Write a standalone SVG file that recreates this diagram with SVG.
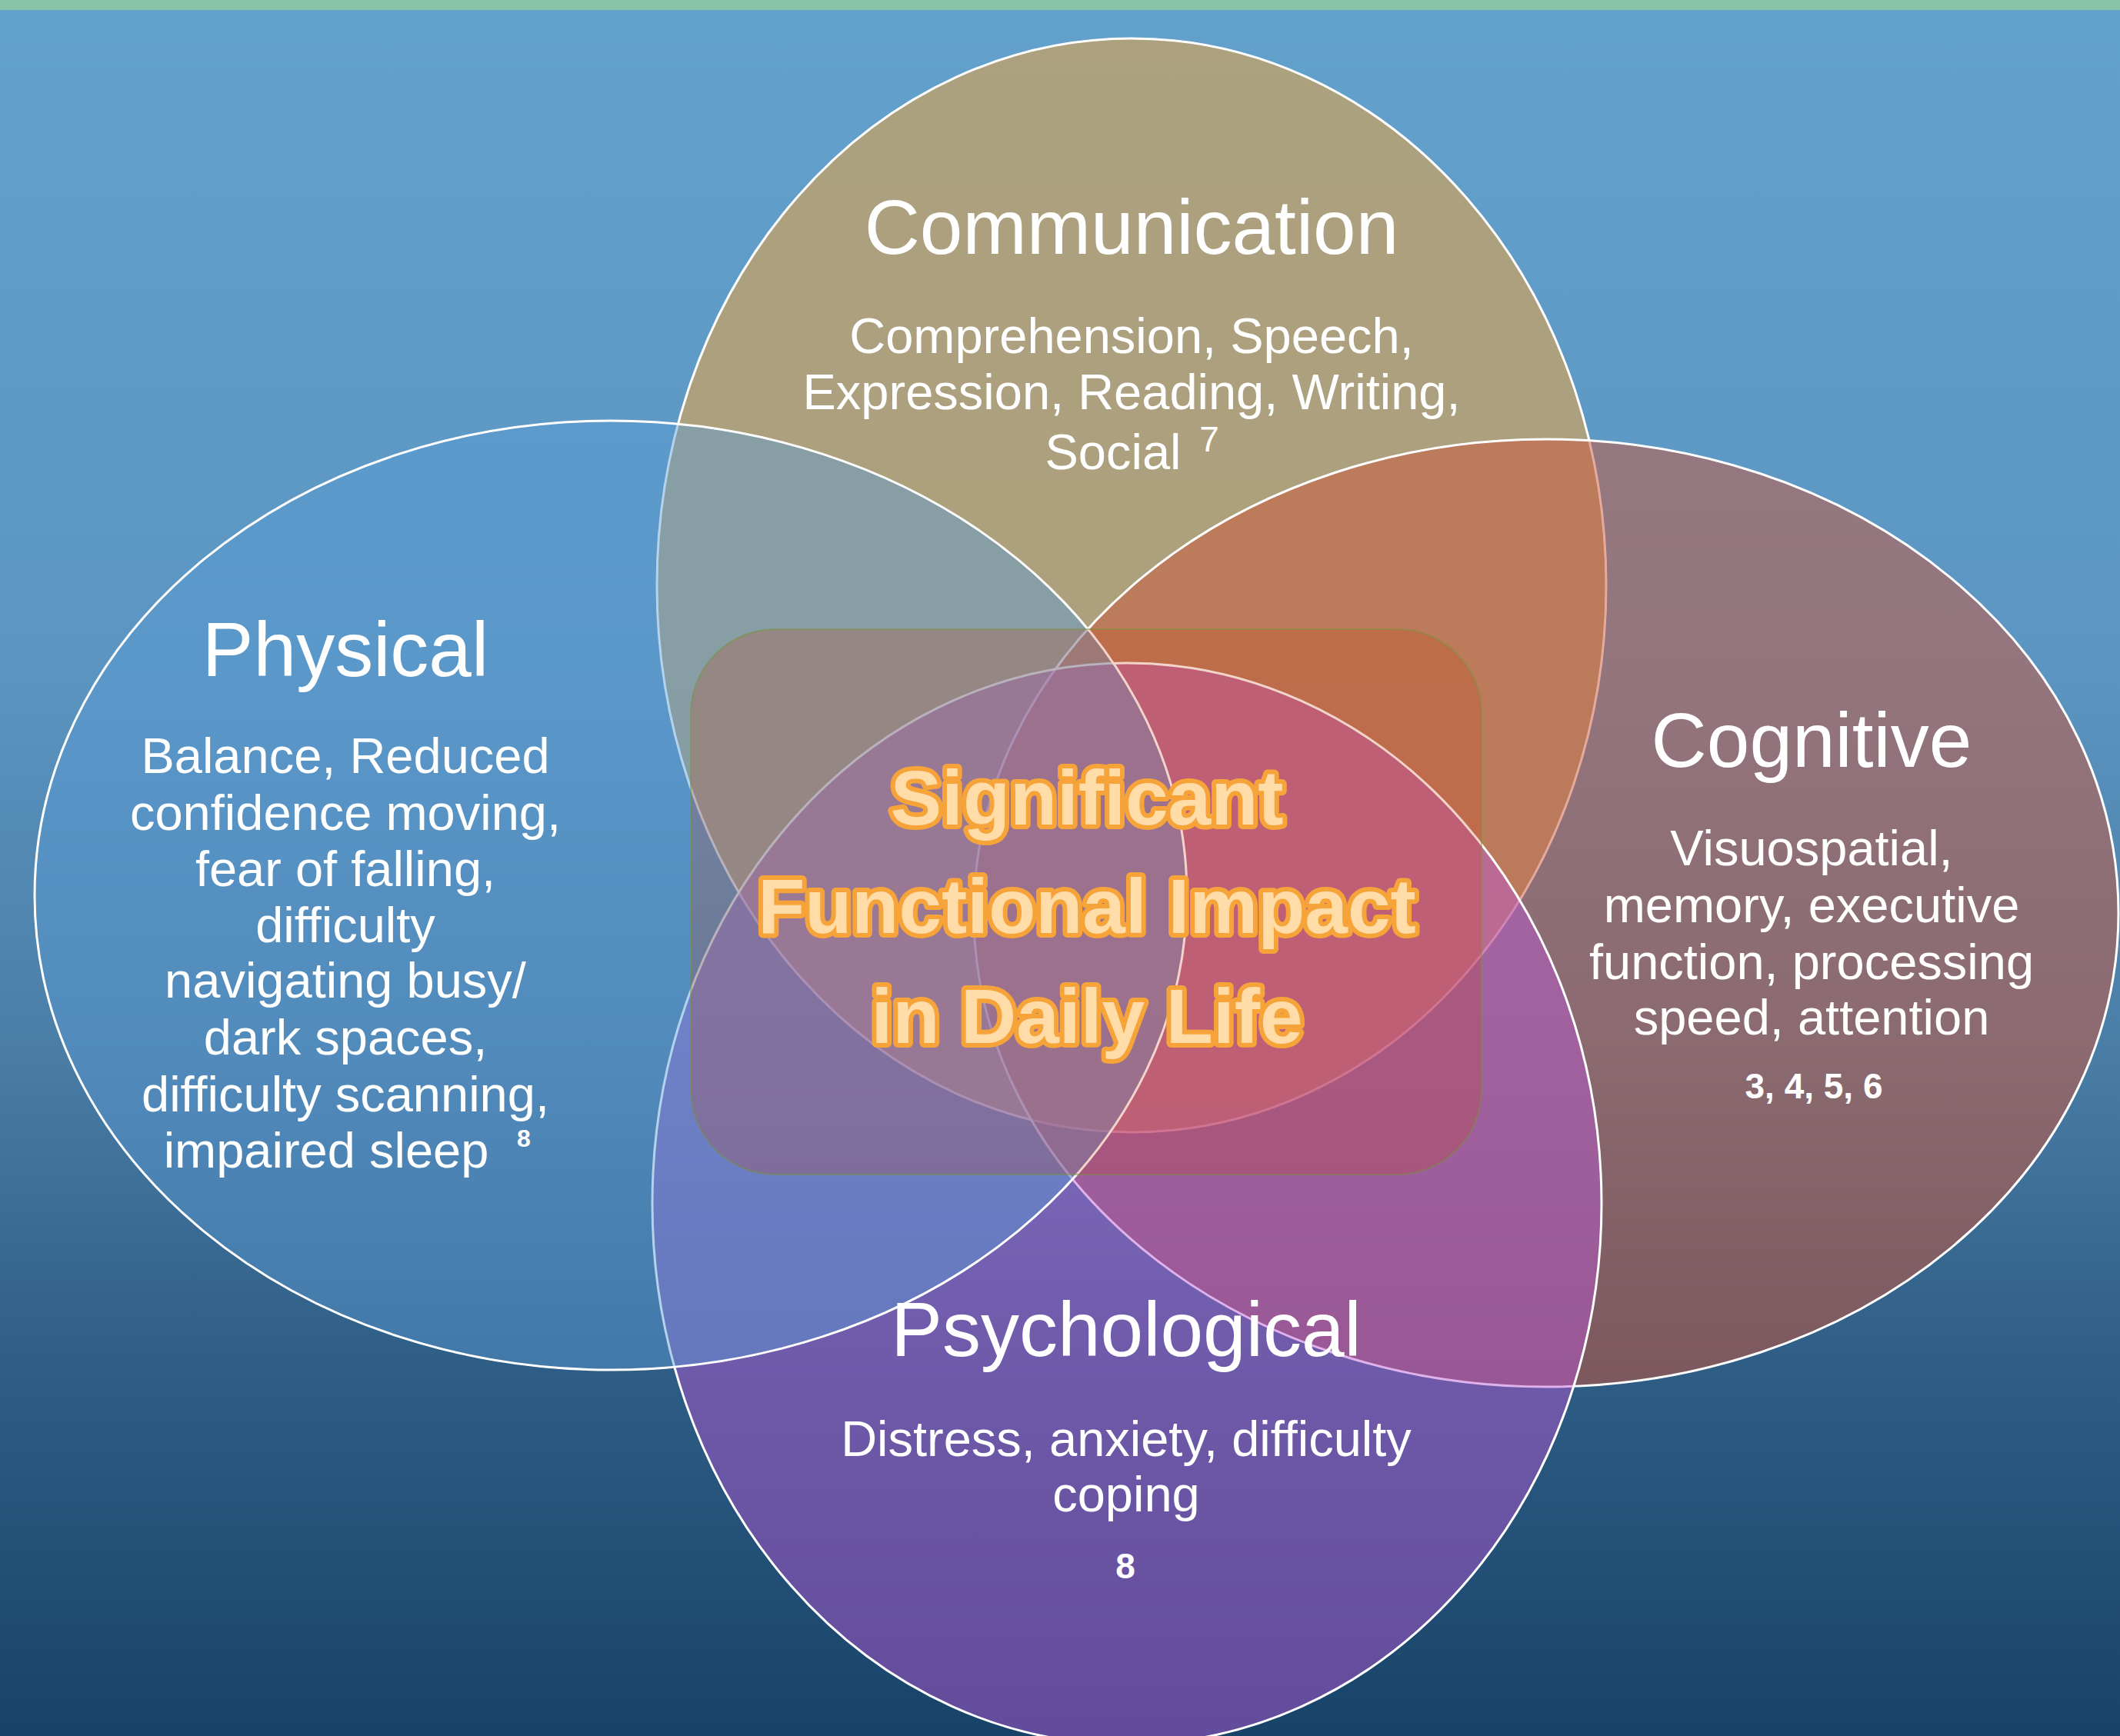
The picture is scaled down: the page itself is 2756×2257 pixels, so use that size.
<svg xmlns="http://www.w3.org/2000/svg" width="2756" height="2257" viewBox="0 0 2756 2257">
<defs>
<linearGradient id="bg" x1="0" y1="13" x2="0" y2="2257" gradientUnits="userSpaceOnUse">
<stop offset="0" stop-color="#63A1CD"/>
<stop offset="0.38" stop-color="#5C95C1"/>
<stop offset="0.6" stop-color="#4A7EA7"/>
<stop offset="0.78" stop-color="#2F5E86"/>
<stop offset="1" stop-color="#184369"/>
</linearGradient>
<style>
.el{stroke:#FFFFFF;stroke-width:3}
.title{font-family:"Liberation Sans",Arial,sans-serif;font-size:100px;fill:#FFFFFF;text-anchor:middle}
.body{font-family:"Liberation Sans",Arial,sans-serif;font-size:65px;fill:#FFFFFF;text-anchor:middle}
.ref{font-family:"Liberation Sans",Arial,sans-serif;font-size:46px;font-weight:bold;fill:#FFFFFF;text-anchor:middle}
.center{font-family:"Liberation Sans",Arial,sans-serif;font-size:100px;font-weight:bold;fill:#FFDCA8;stroke:#F6A43A;stroke-width:12;paint-order:stroke;stroke-linejoin:round;text-anchor:middle}
</style>
</defs>
<rect x="0" y="0" width="2756" height="2257" fill="url(#bg)"/>
<rect x="0" y="0" width="2756" height="13" fill="#88C4A8"/>

<g id="communication">
<ellipse class="el" cx="1471" cy="761" rx="617" ry="711" fill="#B5A176" fill-opacity="0.9"/>
</g>
<g id="cognitive">
<ellipse class="el" cx="2010" cy="1187" rx="744" ry="616" fill="#CB563A" fill-opacity="0.5"/>
</g>
<g id="psychological">
<ellipse class="el" cx="1465" cy="1565" rx="617" ry="703" fill="#BC57D6" fill-opacity="0.46"/>
</g>
<g id="physical">
<ellipse class="el" cx="794" cy="1164" rx="749" ry="617" fill="#5B9BD5" fill-opacity="0.45"/>
</g>
<g id="impact">
<rect x="898" y="818" width="1028" height="709" rx="110" ry="110" fill="#CA3C14" fill-opacity="0.22" stroke="#77933C" stroke-opacity="0.5" stroke-width="2"/>
</g>
<g id="connectors"></g>

<g id="communication-text">
<text class="title" x="1471" y="330">Communication</text>
<text class="body" x="1471" y="459">Comprehension, Speech,</text>
<text class="body" x="1471" y="532">Expression, Reading, Writing,</text>
<text class="body" x="1447" y="610">Social</text>
<text class="body" x="1572" y="587" style="font-size:46px">7</text>
</g>
<g id="physical-text">
<text class="title" x="449" y="879">Physical</text>
<text class="body" x="449" y="1005">Balance, Reduced</text>
<text class="body" x="449" y="1079">confidence moving,</text>
<text class="body" x="449" y="1152">fear of falling,</text>
<text class="body" x="449" y="1225">difficulty</text>
<text class="body" x="449" y="1297">navigating busy/</text>
<text class="body" x="449" y="1371">dark spaces,</text>
<text class="body" x="449" y="1445">difficulty scanning,</text>
<text class="body" x="424" y="1518">impaired sleep</text>
<text class="ref" x="681" y="1491" style="font-size:32px">8</text>
</g>
<g id="cognitive-text">
<text class="title" x="2355" y="997">Cognitive</text>
<text class="body" x="2355" y="1125">Visuospatial,</text>
<text class="body" x="2355" y="1199">memory, executive</text>
<text class="body" x="2355" y="1273">function, processing</text>
<text class="body" x="2355" y="1345">speed, attention</text>
<text class="ref" x="2358" y="1428">3, 4, 5, 6</text>
</g>
<g id="psychological-text">
<text class="title" x="1464" y="1763">Psychological</text>
<text class="body" x="1464" y="1893">Distress, anxiety, difficulty</text>
<text class="body" x="1464" y="1965">coping</text>
<text class="ref" x="1463" y="2052">8</text>
</g>
<g id="impact-text">
<text class="center" x="1413" y="1072">Significant</text>
<text class="center" x="1413" y="1213">Functional Impact</text>
<text class="center" x="1413" y="1356">in Daily Life</text>
</g>
</svg>
